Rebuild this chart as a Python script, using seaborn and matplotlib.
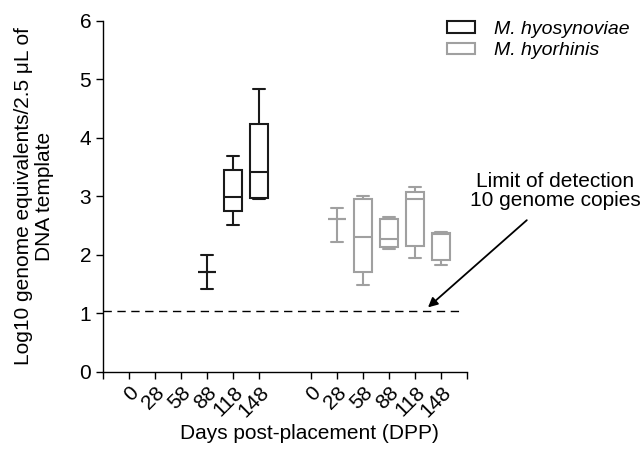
import numpy as np
import pandas as pd
import matplotlib
matplotlib.use("Agg")
import matplotlib.pyplot as plt
from matplotlib.patches import Patch
import seaborn as sns

# ---------------- data ----------------
days = [0, 28, 58, 88, 118, 148]

# M. hyosynoviae (five-number summaries)
syn_days = [88, 118, 148]
syn_min = [1.42, 2.51, 2.95]
syn_q1 = [1.71, 2.75, 2.975]
syn_med = [1.71, 2.99, 3.41]
syn_q3 = [1.71, 3.44, 4.24]
syn_max = [2.00, 3.68, 4.83]

# M. hyorhinis
rhi_days = [28, 58, 88, 118, 148]
rhi_min = [2.22, 1.49, 2.09, 1.95, 1.82]
rhi_q1 = [2.605, 1.70, 2.13, 2.15, 1.91]
rhi_med = [2.605, 2.31, 2.27, 2.96, 2.35]
rhi_q3 = [2.605, 2.96, 2.605, 3.08, 2.375]
rhi_max = [2.79, 3.00, 2.65, 3.15, 2.39]

lod = 1.03
species = ["M. hyosynoviae", "M. hyorhinis"]
colors = ["#1a1a1a", "#a0a0a0"]

# ---------------- build long table ----------------
def long_table(dd, mn, q1, md, q3, mx, offset):
    rows = []
    for d, a, b, c, e, f in zip(dd, mn, q1, md, q3, mx):
        pos = days.index(d) + offset
        for v in (a, b, c, e, f):
            rows.append({"pos": pos, "value": v})
    return pd.DataFrame(rows)

df_syn = long_table(syn_days, syn_min, syn_q1, syn_med, syn_q3, syn_max, 0)
df_rhi = long_table(rhi_days, rhi_min, rhi_q1, rhi_med, rhi_q3, rhi_max, 7)

# ---------------- plot ----------------
sns.set_theme(style="ticks")
plt.rcParams["font.family"] = ["Liberation Sans", "DejaVu Sans"]
plt.rcParams["text.color"] = "black"
plt.rcParams["axes.labelcolor"] = "black"
plt.rcParams["xtick.color"] = "black"
plt.rcParams["ytick.color"] = "black"
FS = 15

fig = plt.figure(figsize=(6.44, 4.5), dpi=100)
ax = fig.add_axes([103 / 644, 1 - 371.7 / 450, 364 / 644, 351 / 450])

for d, c in zip([df_syn, df_rhi], colors):
    sns.boxplot(data=d, x="pos", y="value", native_scale=True, ax=ax,
                width=0.72, whis=(0, 100), showfliers=False,
                color="white", linecolor=c, linewidth=1.5,
                capwidths=0.46)

ax.axhline(lod, xmin=0, xmax=(462 - 103) / 364, color="black",
           lw=1.0, dashes=(6, 4))

ax.set_xlim(-1, 13)
ax.set_ylim(0, 6)
tick_pos = [-1] + list(range(0, 6)) + list(range(7, 13)) + [13]
tick_lab = [""] + [str(d) for d in days] + [str(d) for d in days] + [""]
ax.set_xticks(tick_pos)
ax.set_xticklabels(tick_lab, rotation=45, ha="right", va="top",
                   rotation_mode="anchor", fontsize=FS, color="black")
ax.set_yticks(range(0, 7))
ax.tick_params(axis="y", labelsize=FS, length=5, width=1.0, color="black",
               labelcolor="black")
ax.tick_params(axis="x", length=5, width=1.0, color="black", pad=3,
               labelcolor="black")
for s in ["top", "right"]:
    ax.spines[s].set_visible(False)
for s in ["left", "bottom"]:
    ax.spines[s].set_linewidth(1.0)
    ax.spines[s].set_color("black")

ax.set_xlabel("Days post-placement (DPP)", fontsize=FS, color="black")
ax.xaxis.set_label_coords((309 - 103) / 364, -(424 - 371.7) / 351)
ax.set_ylabel("Log10 genome equivalents/2.5 μL of\nDNA template",
              fontsize=FS, multialignment="center", linespacing=1.1,
              color="black")
ax.yaxis.label.set_va("center")
ax.yaxis.set_label_coords((34 - 103) / 364, 0.5)

# annotation
ax.text(16.38, 3.09, "Limit of detection\n10 genome copies", fontsize=FS,
        ha="center", va="center", multialignment="center", linespacing=1.05,
        clip_on=False, color="black")
ax.annotate("", xy=(11.5, 1.1), xytext=(15.3, 2.59),
            arrowprops=dict(arrowstyle="-|>", color="black", lw=1.3,
                            mutation_scale=14, shrinkA=0, shrinkB=0),
            annotation_clip=False)

# legend
LFS = 14
handles = [Patch(facecolor="white", edgecolor=c, linewidth=1.5, label=s)
           for s, c in zip(species, colors)]
leg = fig.legend(handles=handles, loc="upper left",
                 bbox_to_anchor=(447 / 644, 1 - 21 / 450), frameon=False,
                 handlelength=1.44, handleheight=0.52,
                 handletextpad=1.0, labelspacing=0.23, borderpad=0,
                 borderaxespad=0, labelcolor="black",
                 prop={"style": "italic", "size": LFS})

fig.savefig("out.png", dpi=100)
